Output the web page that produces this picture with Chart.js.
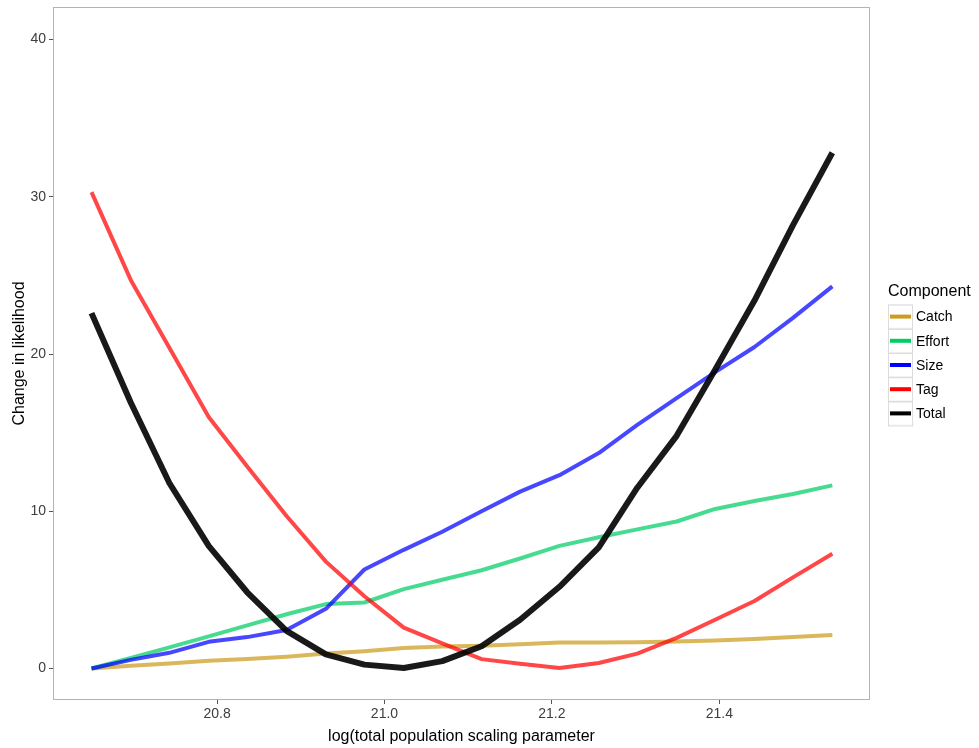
<!DOCTYPE html>
<html>
<head>
<meta charset="utf-8">
<script src="https://cdn.jsdelivr.net/npm/chart.js@4.4.0/dist/chart.umd.min.js"></script>
<style>
  html, body { margin: 0; padding: 0; background: #ffffff; }
</style>
</head>
<body>
<canvas id="myChart" width="979" height="748"></canvas>
<script>
// x: log(total population scaling parameter)
let logPop = [20.650, 20.697, 20.743, 20.790, 20.836, 20.883, 20.930, 20.976, 21.023, 21.069,
              21.116, 21.162, 21.209, 21.256, 21.302, 21.349, 21.395, 21.442, 21.488, 21.535];

let catchValues  = [0, 0.18, 0.32, 0.50, 0.60, 0.75, 0.95, 1.10, 1.30, 1.40,
                    1.45, 1.55, 1.65, 1.65, 1.68, 1.72, 1.78, 1.88, 2.00, 2.14];
let effortValues = [0, 0.67, 1.35, 2.05, 2.75, 3.45, 4.10, 4.20, 5.05, 5.65,
                    6.25, 7.00, 7.80, 8.35, 8.85, 9.35, 10.15, 10.65, 11.10, 11.65];
let sizeValues   = [0, 0.55, 1.00, 1.70, 2.00, 2.45, 3.80, 6.30, 7.55, 8.70,
                    10.00, 11.25, 12.30, 13.70, 15.50, 17.20, 18.85, 20.45, 22.30, 24.30];
let tagValues    = [30.30, 24.70, 20.40, 16.00, 12.85, 9.70, 6.80, 4.60, 2.60, 1.60,
                    0.60, 0.30, 0.04, 0.35, 0.95, 1.95, 3.10, 4.30, 5.80, 7.30];
let totalValues  = [22.60, 16.90, 11.80, 7.80, 4.85, 2.40, 0.90, 0.25, 0.04, 0.47,
                    1.42, 3.10, 5.20, 7.70, 11.50, 14.80, 19.00, 23.40, 28.20, 32.80];

let componentNames  = ["Catch", "Effort", "Size", "Tag", "Total"];
let componentColors = ["#CD9B1D", "#00CD66", "#0000FF", "#FF0000", "#000000"];
let componentSeries = [catchValues, effortValues, sizeValues, tagValues, totalValues];

let xTicks = [20.8, 21.0, 21.2, 21.4];
let yTicks = [0, 10, 20, 30, 40];

const FONT = "'Liberation Sans', Arial, sans-serif";

function withAlpha(hex, a) {
    let r = parseInt(hex.slice(1, 3), 16), g = parseInt(hex.slice(3, 5), 16), b = parseInt(hex.slice(5, 7), 16);
    return `rgba(${r},${g},${b},${a})`;
}

let datasets = componentNames.map((name, i) => ({
    label: name,
    data: logPop.map((x, j) => ({x: x, y: componentSeries[i][j]})),
    borderColor: withAlpha(componentColors[i], name === "Total" ? 0.9 : 0.72),
    borderWidth: name === "Total" ? 6 : 4,
    pointRadius: 0,
    tension: 0,
    fill: false,
    order: componentNames.length - 1 - i,
    borderJoinStyle: 'round'
}));

// panel border + ggplot style legend
const panelAndLegend = {
    id: 'panelAndLegend',
    afterDatasetsDraw(chart) {
        let {ctx, chartArea} = chart;
        ctx.save();
        ctx.strokeStyle = '#b3b3b3';
        ctx.lineWidth = 1;
        ctx.strokeRect(chartArea.left + 0.5, chartArea.top + 0.5,
                       chartArea.right - chartArea.left - 1, chartArea.bottom - chartArea.top - 1);

        let lx = chartArea.right + 18;
        let keyTop = 304.5;
        let keyH = 24.2;
        ctx.fillStyle = '#000';
        ctx.font = `16px ${FONT}`;
        ctx.textBaseline = 'middle';
        ctx.textAlign = 'left';
        ctx.fillText('Component', lx, 292);

        chart.data.datasets.forEach((ds, i) => {
            let y = keyTop + i * keyH;
            ctx.fillStyle = '#f2f2f2';
            ctx.fillRect(lx, y, 25, keyH);
            ctx.fillStyle = '#ffffff';
            ctx.fillRect(lx + 1, y + 1, 23, keyH - 2);
            ctx.strokeStyle = componentColors[i];
            ctx.lineWidth = 4;
            ctx.beginPath();
            ctx.moveTo(lx + 2, y + keyH / 2);
            ctx.lineTo(lx + 23, y + keyH / 2);
            ctx.stroke();
            ctx.fillStyle = '#000';
            ctx.font = `14px ${FONT}`;
            ctx.fillText(ds.label, lx + 28, y + keyH / 2 + 1);
        });
        ctx.strokeStyle = '#dcdcdc';
        ctx.lineWidth = 1;
        for (let i = 0; i < chart.data.datasets.length; i++) {
            ctx.strokeRect(lx + 0.5, keyTop + i * keyH + 0.5, 24, keyH);
        }
        ctx.restore();
    }
};

new Chart("myChart", {
    type: "line",
    data: { datasets: datasets },
    options: {
        responsive: false,
        animation: false,
        devicePixelRatio: 1,
        layout: { padding: { top: 7, right: 109, left: 0, bottom: 0 } },
        plugins: {
            legend: { display: false },
            tooltip: { enabled: false }
        },
        scales: {
            x: {
                type: 'linear',
                min: 20.604,
                max: 21.58,
                afterBuildTicks: s => { s.ticks = xTicks.map(v => ({value: v})); },
                afterFit: s => { s.height = 48; s.paddingLeft = 0; s.paddingRight = 0; },
                ticks: {
                    callback: v => Number(v).toFixed(1),
                    color: '#3d3d3d',
                    font: { family: FONT, size: 14 },
                    padding: 2,
                    maxRotation: 0
                },
                grid: { display: true, drawOnChartArea: false, drawTicks: true, tickLength: 4, color: '#555', tickColor: '#555' },
                border: { display: false },
                title: {
                    display: true,
                    text: 'log(total population scaling parameter',
                    color: '#000',
                    font: { family: FONT, size: 16 },
                    padding: { top: 0, bottom: 2 }
                }
            },
            y: {
                type: 'linear',
                min: -2.0,
                max: 42.07,
                afterBuildTicks: s => { s.ticks = yTicks.map(v => ({value: v})); },
                afterFit: s => { s.width = 53; s.paddingTop = 0; s.paddingBottom = 0; },
                ticks: {
                    color: '#3d3d3d',
                    font: { family: FONT, size: 14 },
                    padding: 3
                },
                grid: { display: true, drawOnChartArea: false, drawTicks: true, tickLength: 4, color: '#555', tickColor: '#555' },
                border: { display: false },
                title: {
                    display: true,
                    text: 'Change in likelihood',
                    color: '#000',
                    font: { family: FONT, size: 16 },
                    padding: { top: 10, bottom: 0 }
                }
            }
        }
    },
    plugins: [panelAndLegend]
});
</script>
</body>
</html>
